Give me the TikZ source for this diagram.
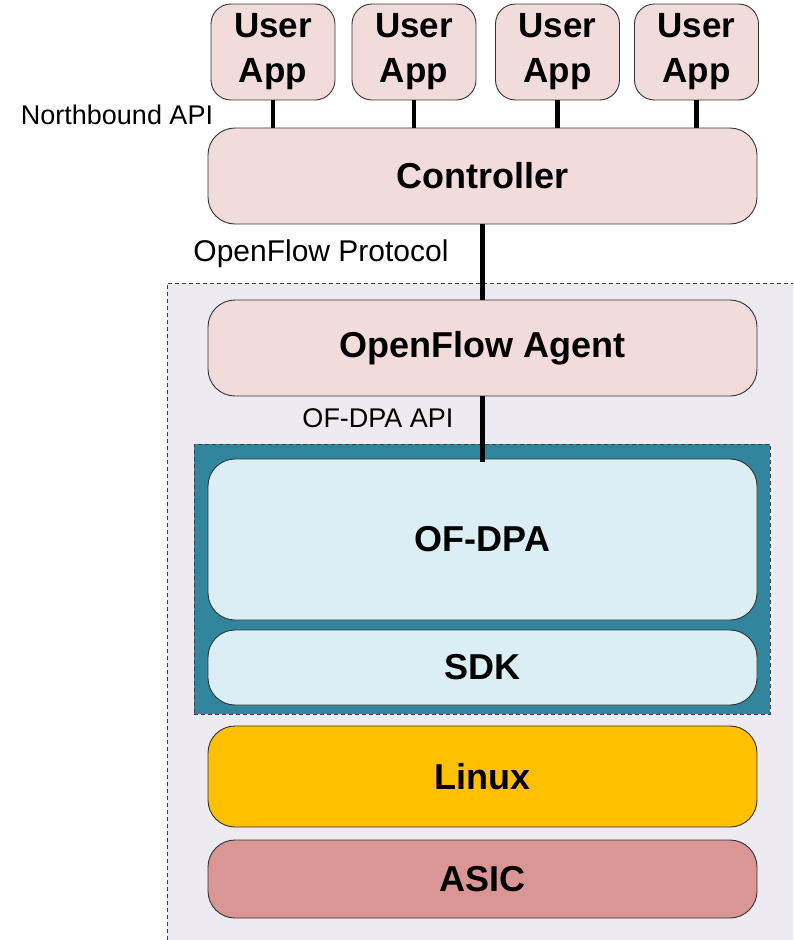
\documentclass[tikz,border=0pt]{standalone}
\usepackage{fontspec}
\setmainfont{Liberation Sans}

\definecolor{rosado}{HTML}{F2DCDB}
\definecolor{celeste}{HTML}{DBEEF4}
\definecolor{petroleo}{HTML}{31859C}
\definecolor{ambar}{HTML}{FFC000}
\definecolor{rojizo}{HTML}{D99694}
\definecolor{lavanda}{HTML}{EDEAF1}

\begin{document}
\begin{tikzpicture}[x=1pt, y=-1pt,
		layer/.style={draw=black!80, line width=0.9pt, rounded corners=27pt, minimum width=549pt, inner sep=0pt, font=\fontsize{36}{40}\selectfont\bfseries},
		app/.style={layer, fill=rosado, rounded corners=20pt, minimum width=124pt, minimum height=96pt, align=center, font=\fontsize{35}{45}\selectfont\bfseries},
		link/.style={line width=4.5pt},
		etiqueta/.style={inner sep=0pt, font=\fontsize{27}{30}\selectfont}]
		
		\useasboundingbox (0,0) rectangle (793,940);
		
		% --- ZONA DEL SWITCH ---
		\fill[lavanda] (167,283) rectangle (793,940);
		\draw[dashed, dash pattern=on 4pt off 3pt, black!75, line width=0.9pt] (167,940) |- (793,283);
		
		% --- APLICACIONES ---
		\node[app] (app1) at (273,52) {User\\App};
		\node[app] (app2) at (414,52) {User\\App};
		\node[app] (app3) at (557.5,52) {User\\App};
		\node[app] (app4) at (696.5,52) {User\\App};
		
		% --- CAPAS ---
		\node[layer, fill=rosado, minimum height=96pt] (ctrl) at (482.5,176) {Controller};
		\node[layer, fill=rosado, minimum height=96pt] (agent) at (482.5,348) {OpenFlow Agent};
		
		% Bloque OF-DPA + SDK
		\node[draw=black!75, dashed, dash pattern=on 4pt off 3pt, line width=0.9pt, fill=petroleo, minimum width=576pt, minimum height=270pt, inner sep=0pt] (dpa) at (482,579) {};
		\node[layer, fill=celeste, minimum height=161pt] (ofdpa) at (482.5,539.5) {OF-DPA};
		\node[layer, fill=celeste, minimum height=75pt] (sdk) at (482.5,667.5) {SDK};
		
		\node[layer, fill=ambar, minimum height=101pt] (linux) at (482.5,776.5) {Linux};
		\node[layer, fill=rojizo, minimum height=78pt] (asic) at (482.5,879) {ASIC};
		
		% --- ENLACES ---
		\foreach \i in {1,...,4}
			\draw[link] (app\i.south) -- (app\i.south |- ctrl.north);
		\draw[link] (ctrl.south) -- (agent.north);
		\draw[link] (agent.south) -- ([yshift=-3pt]ofdpa.north);
		
		% --- ETIQUETAS ---
		\node[etiqueta] (nb) at (117,115) {Northbound API};
		\node[etiqueta, font=\fontsize{30}{34}\selectfont] (ofp) at (321,254) {OpenFlow Protocol};
		\node[etiqueta] (api) at (378,418) {OF-DPA API};
		
	\end{tikzpicture}
\end{document}
